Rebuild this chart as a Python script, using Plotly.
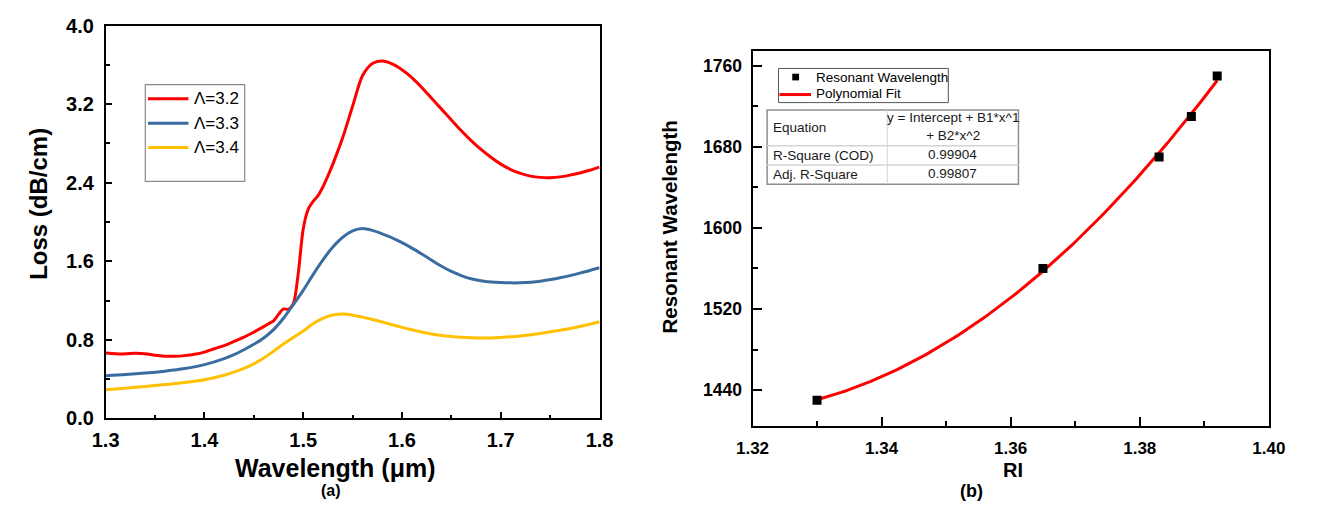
import numpy as np
import plotly.graph_objects as go

W, H = 1317, 514
FONT = "Liberation Sans, Arial, sans-serif"

# ---------------- Panel (a): loss spectra ----------------
wl_red = [1.30, 1.31, 1.32, 1.33, 1.34, 1.35, 1.36, 1.37, 1.38, 1.39,
          1.40, 1.41, 1.42, 1.43, 1.44, 1.45, 1.46, 1.465, 1.47, 1.475,
          1.48, 1.485, 1.49, 1.495, 1.50, 1.505, 1.51, 1.515, 1.52, 1.525,
          1.53, 1.54, 1.55, 1.56, 1.57, 1.58, 1.59, 1.60, 1.61, 1.62,
          1.63, 1.64, 1.65, 1.66, 1.67, 1.68, 1.69, 1.70, 1.71, 1.72,
          1.73, 1.74, 1.75, 1.76, 1.77, 1.78, 1.79, 1.80]
loss_red = [0.667, 0.660, 0.658, 0.665, 0.660, 0.643, 0.634, 0.633, 0.640, 0.653,
            0.676, 0.710, 0.742, 0.785, 0.828, 0.880, 0.935, 0.965, 0.995, 1.060,
            1.115, 1.112, 1.170, 1.480, 1.930, 2.130, 2.210, 2.270, 2.360, 2.470,
            2.590, 2.860, 3.180, 3.490, 3.615, 3.640, 3.610, 3.550, 3.470, 3.370,
            3.260, 3.150, 3.040, 2.930, 2.830, 2.740, 2.660, 2.590, 2.535, 2.495,
            2.468, 2.455, 2.452, 2.460, 2.478, 2.500, 2.528, 2.560]

wl_blue = [1.30, 1.32, 1.34, 1.36, 1.38, 1.40, 1.42, 1.43, 1.44, 1.45,
           1.46, 1.47, 1.48, 1.49, 1.50, 1.51, 1.52, 1.53, 1.54, 1.55,
           1.56, 1.57, 1.58, 1.59, 1.60, 1.61, 1.62, 1.63, 1.64, 1.65,
           1.66, 1.67, 1.68, 1.69, 1.70, 1.71, 1.72, 1.74, 1.76, 1.78,
           1.80]
loss_blue = [0.436, 0.447, 0.462, 0.482, 0.508, 0.548, 0.610, 0.650, 0.700, 0.755,
             0.820, 0.905, 1.020, 1.160, 1.305, 1.465, 1.615, 1.745, 1.845, 1.910,
             1.934, 1.915, 1.880, 1.840, 1.790, 1.735, 1.675, 1.612, 1.550, 1.497,
             1.455, 1.422, 1.402, 1.390, 1.384, 1.381, 1.382, 1.398, 1.433, 1.480,
             1.535]

wl_yel = [1.30, 1.32, 1.34, 1.36, 1.38, 1.40, 1.42, 1.43, 1.44, 1.45,
          1.46, 1.47, 1.48, 1.49, 1.50, 1.51, 1.52, 1.53, 1.54, 1.55,
          1.56, 1.57, 1.58, 1.59, 1.60, 1.61, 1.62, 1.63, 1.64, 1.65,
          1.66, 1.67, 1.68, 1.69, 1.70, 1.72, 1.74, 1.76, 1.78, 1.80]
loss_yel = [0.292, 0.308, 0.326, 0.345, 0.366, 0.395, 0.440, 0.472, 0.510, 0.556,
            0.615, 0.685, 0.758, 0.824, 0.890, 0.965, 1.020, 1.053, 1.063, 1.052,
            1.032, 1.008, 0.982, 0.955, 0.928, 0.903, 0.880, 0.860, 0.845, 0.834,
            0.826, 0.821, 0.819, 0.820, 0.825, 0.840, 0.866, 0.898, 0.937, 0.985]

series_names = ["\u039b=3.2", "\u039b=3.3", "\u039b=3.4"]
series_colors = ["#FF0000", "#3A6CA0", "#FFC000"]

# ---------------- Panel (b): resonant wavelength vs RI ----------------
ri = [1.330, 1.365, 1.383, 1.388, 1.392]
res_wl = [1430, 1560, 1670, 1710, 1750]

table_rows = [("Equation", "y = Intercept + B1*x^1<br>+ B2*x^2"),
              ("R-Square (COD)", "0.99904"),
              ("Adj. R-Square", "0.99807")]

coef = np.polyfit(ri, res_wl, 2)
fit_x = np.linspace(min(ri), max(ri), 150)
fit_y = np.polyval(coef, fit_x)


def px(x):
    return x / W


def py(y):
    return 1 - y / H


fig = go.Figure()
for xs, ys, nm, col in zip([wl_red, wl_blue, wl_yel], [loss_red, loss_blue, loss_yel],
                           series_names, series_colors):
    fig.add_trace(go.Scatter(x=xs, y=ys, mode="lines", name=nm,
                             line=dict(color=col, width=3, shape="spline", smoothing=0.8),
                             xaxis="x", yaxis="y", showlegend=False))

fig.add_trace(go.Scatter(x=fit_x, y=fit_y, mode="lines", name="Polynomial Fit",
                         line=dict(color="#FF0000", width=3),
                         xaxis="x2", yaxis="y2", showlegend=False))
fig.add_trace(go.Scatter(x=ri, y=res_wl, mode="markers", name="Resonant Wavelength",
                         marker=dict(symbol="square", size=9, color="black"),
                         xaxis="x2", yaxis="y2", showlegend=False))

axis_common = dict(showline=True, mirror=True, linecolor="black", ticks="inside",
                   tickcolor="black", showgrid=False, zeroline=False)

fig.update_layout(
    width=W, height=H,
    margin=dict(l=0, r=0, t=0, b=0),
    paper_bgcolor="white", plot_bgcolor="white",
    font=dict(family=FONT, color="black"),
    xaxis=dict(domain=[px(91), px(598)], range=[1.3, 1.8], dtick=0.1, tick0=1.3,
               tickformat=".1f", linewidth=1.5, ticklen=7, tickwidth=1.5,
               tickfont=dict(size=20, weight="bold"), ticklabelstandoff=3,
               minor=dict(dtick=0.05, ticks="inside", ticklen=4, tickwidth=1.5, tickcolor="black"),
               anchor="y", **axis_common),
    yaxis=dict(domain=[py(425.7), py(15.3)], range=[0, 4], dtick=0.8, tick0=0,
               tickformat=".1f", linewidth=1.5, ticklen=7, tickwidth=1.5,
               tickfont=dict(size=20, weight="bold"), ticklabelstandoff=6,
               minor=dict(dtick=0.4, ticks="inside", ticklen=5, tickwidth=1.5, tickcolor="black"),
               anchor="x", **axis_common),
    xaxis2=dict(domain=[px(755), px(1285)], range=[1.32, 1.40], dtick=0.02, tick0=1.32,
                tickformat=".2f", linewidth=2, ticklen=9, tickwidth=1.5,
                tickfont=dict(size=17, weight="bold"), ticklabelstandoff=6,
                minor=dict(dtick=0.01, ticks="inside", ticklen=5, tickwidth=1.5, tickcolor="black"),
                anchor="y2", **axis_common),
    yaxis2=dict(domain=[py(433.3), py(41.3)], range=[1404.8, 1775.1], dtick=80, tick0=1440,
                linewidth=2, ticklen=9, tickwidth=1.5,
                tickfont=dict(size=17.5, weight="bold"), ticklabelstandoff=5,
                minor=dict(dtick=40, ticks="inside", ticklen=5, tickwidth=1.5, tickcolor="black"),
                anchor="x2", **axis_common),
)

ann = []
shapes = []


def text(x, y, s, size, bold=False, xanchor="center", angle=0, color="black"):
    ann.append(dict(x=px(x), y=py(y), xref="paper", yref="paper", text=s, showarrow=False,
                    xanchor=xanchor, yanchor="middle", textangle=angle,
                    font=dict(size=size, family=FONT, color=color,
                              weight="bold" if bold else "normal")))


# axis titles and panel labels
text(22, 201, "Loss (dB/cm)", 24, bold=True, angle=-90)
text(327, 477, "Wavelength (\u03bcm)", 25, bold=True)
text(322, 501, "(a)", 16, bold=True)
text(670, 225.5, "Resonant Wavelength", 20.5, bold=True, angle=-90)
text(1022, 480, "RI", 20, bold=True)
text(980, 501, "(b)", 18, bold=True)

# legend of panel (a)
shapes.append(dict(type="rect", xref="paper", yref="paper", x0=px(131.7), x1=px(233.7),
                   y0=py(178), y1=py(77), line=dict(color="#8a8a8a", width=1.2)))
for i, (nm, col) in enumerate(zip(series_names, series_colors)):
    yy = 91.7 + 25.5 * i
    shapes.append(dict(type="line", xref="paper", yref="paper", x0=px(134.4), x1=px(176),
                       y0=py(yy), y1=py(yy), line=dict(color=col, width=3)))
    text(180, yy, nm, 17, xanchor="left")

# legend of panel (b)
shapes.append(dict(type="rect", xref="paper", yref="paper", x0=px(781.7), x1=px(956),
                   y0=py(95.7), y1=py(60), line=dict(color="#555555", width=1)))
shapes.append(dict(type="rect", xref="paper", yref="paper", x0=px(795.8), x1=px(802.8),
                   y0=py(72.5), y1=py(65.5), fillcolor="black", line=dict(width=0)))
shapes.append(dict(type="line", xref="paper", yref="paper", x0=px(782.7), x1=px(815),
                   y0=py(87.3), y1=py(87.3), line=dict(color="#FF0000", width=3)))
text(818, 69, "Resonant Wavelength", 13.5, xanchor="left")
text(818, 86.5, "Polynomial Fit", 13.5, xanchor="left")

# fit statistics table
tx0, tx1, tcol = 770, 1028, 893.3
row_edges = [103.3, 140.7, 161, 181]
shapes.append(dict(type="rect", xref="paper", yref="paper", x0=px(tx0), x1=px(tx1),
                   y0=py(row_edges[-1]), y1=py(row_edges[0]), fillcolor="white",
                   line=dict(color="#8f8f8f", width=1.5)))
shapes.append(dict(type="line", xref="paper", yref="paper", x0=px(tcol), x1=px(tcol),
                   y0=py(row_edges[-1]), y1=py(row_edges[0]), line=dict(color="#d4d4d4", width=1)))
for ry in row_edges[1:-1]:
    shapes.append(dict(type="line", xref="paper", yref="paper", x0=px(tx0), x1=px(tx1),
                       y0=py(ry), y1=py(ry), line=dict(color="#d4d4d4", width=1.5)))
for i, (lab, val) in enumerate(table_rows):
    yc = (row_edges[i] + row_edges[i + 1]) / 2
    text(773.5, yc, lab, 13.5, xanchor="left", color="#1a1a1a")
    text((tcol + tx1) / 2, yc - 1, val, 13.5, color="#1a1a1a")

fig.update_layout(annotations=ann, shapes=shapes)
fig.write_html("out.html")
